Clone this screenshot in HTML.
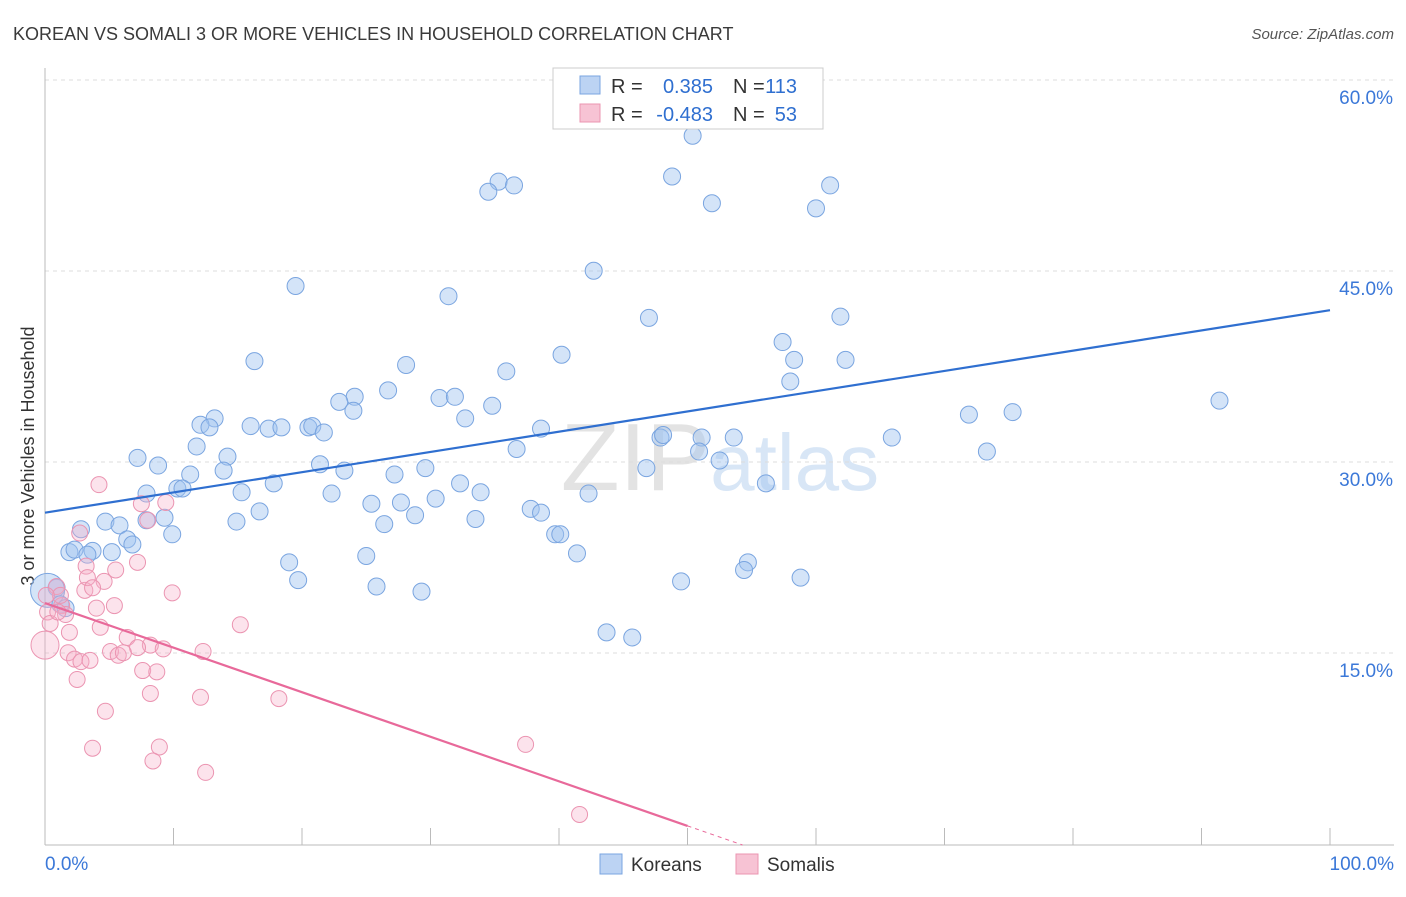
<!DOCTYPE html>
<html><head><meta charset="utf-8">
<style>
body{margin:0;background:#fff;font-family:"Liberation Sans",sans-serif;}
svg text{font-family:"Liberation Sans",sans-serif;}
</style></head>
<body>
<svg id="chart" width="1406" height="892" viewBox="0 0 1406 892" xmlns="http://www.w3.org/2000/svg">
<text x="13" y="40" font-size="18" fill="#3a3a3a">KOREAN VS SOMALI 3 OR MORE VEHICLES IN HOUSEHOLD CORRELATION CHART</text>
<text x="1394" y="39" font-size="15" fill="#555" font-style="italic" text-anchor="end">Source: ZipAtlas.com</text>
<text x="720" y="490" font-size="96" fill="#e6ebf2" text-anchor="middle" font-family="Liberation Serif"><tspan fill="#e3e3e3">ZIP</tspan><tspan fill="#d8e6f6" font-family="Liberation Sans" font-size="80">atlas</tspan></text>
<text transform="translate(34,456) rotate(-90)" font-size="18" fill="#333" text-anchor="middle">3 or more Vehicles in Household</text>
<g id="grid"></g>
<g id="axes"></g>
<g id="points"></g>
<g id="lines"></g>
<g>
<rect x="553" y="68" width="270" height="61" fill="#fff" stroke="#ccc"/>
<rect x="580" y="76" width="20" height="18" fill="#bcd3f3" stroke="#7aa5e0"/>
<rect x="580" y="104" width="20" height="18" fill="#f7c3d4" stroke="#eb94b1"/>
<g font-size="20">
<text x="611" y="93" fill="#333">R =</text>
<text x="713" y="93" fill="#2f6fd0" text-anchor="end">0.385</text>
<text x="733" y="93" fill="#333">N =</text>
<text x="797" y="93" fill="#2f6fd0" text-anchor="end">113</text>
</g>
<g font-size="20">
<text x="611" y="121" fill="#333">R =</text>
<text x="713" y="121" fill="#2f6fd0" text-anchor="end">-0.483</text>
<text x="733" y="121" fill="#333">N =</text>
<text x="797" y="121" fill="#2f6fd0" text-anchor="end">53</text>
</g>
</g>
<g>
<rect x="600" y="854" width="22" height="20" fill="#bcd3f3" stroke="#7aa5e0"/>
<text x="631" y="871" font-size="19" fill="#333">Koreans</text>
<rect x="736" y="854" width="22" height="20" fill="#f7c3d4" stroke="#eb94b1"/>
<text x="767" y="871" font-size="19" fill="#333">Somalis</text>
</g>
</svg>
<script>
const yTicks=[15,30,45,60];
const xTickLabels=["0.0%","100.0%"];
const koreanX=[50.4,35.3,34.5,36.5,48.8,51.9,61.1,60.0,42.7,19.5,31.4,47.0,61.9,57.4,40.2,58.3,62.3,16.3,28.1,35.9,58.0,26.7,24.1,22.9,30.7,31.9,24.0,34.8,32.7,13.2,12.1,12.8,16.0,17.4,18.4,20.5,20.8,21.7,38.6,47.9,48.1,51.1,53.6,65.9,71.9,75.3,91.4,73.3,11.8,7.2,14.2,8.8,21.4,23.3,29.6,36.7,52.5,46.8,50.9,11.3,13.9,27.2,32.3,33.9,10.3,10.7,7.9,15.3,17.8,22.3,25.4,27.7,30.4,42.3,56.1,16.7,28.8,33.5,37.8,38.6,7.9,9.3,14.9,26.4,4.7,5.8,2.8,9.9,39.7,40.1,6.4,6.8,1.9,2.3,3.7,3.3,5.2,41.4,25.0,19.0,54.7,54.4,19.7,25.8,29.3,49.5,58.8,0.9,0.2,43.7,45.7,1.2,1.6];
const koreanY=[55.7,52.1,51.3,51.8,52.5,50.4,51.8,50.0,45.1,43.9,43.1,41.4,41.5,39.5,38.5,38.1,38.1,38.0,37.7,37.2,36.4,35.7,35.2,34.8,35.1,35.2,34.1,34.5,33.5,33.5,33.0,32.8,32.9,32.7,32.8,32.8,32.9,32.4,32.7,32.0,32.2,32.0,32.0,32.0,33.8,34.0,34.9,30.9,31.3,30.4,30.5,29.8,29.9,29.4,29.6,31.1,30.2,29.6,30.9,29.1,29.4,29.1,28.4,27.7,28.0,28.0,27.6,27.7,28.4,27.6,26.8,26.9,27.2,27.6,28.4,26.2,25.9,25.6,26.4,26.1,25.5,25.7,25.4,25.2,25.4,25.1,24.8,24.4,24.4,24.4,24.0,23.6,23.0,23.2,23.1,22.8,23.0,22.9,22.7,22.2,22.2,21.6,20.8,20.3,19.9,20.7,21.0,20.2,20.0,16.7,16.3,18.9,18.6];
const somaliX=[4.2,9.4,7.5,8.0,2.7,7.2,3.2,5.5,4.6,3.1,0.9,9.9,5.4,1.3,4.0,1.6,0.2,0.4,4.3,15.2,1.9,6.4,0,8.2,7.2,9.2,5.1,12.3,5.7,1.8,2.3,2.8,3.5,6.1,7.6,8.7,2.5,8.2,12.1,18.2,4.7,3.7,8.9,8.4,12.5,37.4,41.6,1.2,3.3,0.1,1.0,3.7];
const somaliY=[28.3,26.9,26.8,25.5,24.5,22.2,21.9,21.6,20.7,20.0,20.3,19.8,18.8,18.8,18.6,18.1,18.3,17.4,17.1,17.3,16.7,16.3,15.7,15.7,15.5,15.4,15.2,15.2,14.9,15.1,14.6,14.4,14.5,15.1,13.7,13.6,13.0,11.9,11.6,11.5,10.5,7.6,7.7,6.6,5.7,7.9,2.4,19.6,21.0,19.6,18.3,20.2];
const koreanTrend=[26.1,42.0]; // y at x=0, x=100
const somaliTrend=[19.0,-0.35]; // intercept, slope
const NS="http://www.w3.org/2000/svg";
const X0=45,X1=1330,Y0=845,PXY=191/15;
const sx=v=>X0+(X1-X0)*v/100, sy=v=>Y0-v*PXY;
function mk(t,a,p){const e=document.createElementNS(NS,t);for(const k in a)e.setAttribute(k,a[k]);p.appendChild(e);return e;}
const grid=document.getElementById('grid'),axes=document.getElementById('axes'),pts=document.getElementById('points'),lines=document.getElementById('lines');
yTicks.forEach(v=>{
 const l=mk('line',{x1:45,x2:1394,y1:sy(v)-1,y2:sy(v)-1,stroke:'#dcdcdc','stroke-dasharray':'4,4'},grid);
 
 
 const t=mk('text',{x:1393,y:sy(v)+23,'font-size':19,fill:'#3b78d8','text-anchor':'end'},grid);
 t.textContent=v.toFixed(1)+'%';
 
 
});
const ax=mk('line',{x1:45,x2:1394,y1:Y0,y2:Y0,stroke:'#bbb'},axes);


const ay=mk('line',{x1:45,x2:45,y1:68,y2:Y0,stroke:'#bbb'},axes);


for(let i=0;i<=10;i++){
 const tk=mk('line',{x1:sx(i*10),x2:sx(i*10),y1:828,y2:Y0,stroke:'#bbb'},axes);
 
 
}
[[0,'start',45],[100,'end',1394]].forEach((d,i)=>{
 const t=mk('text',{x:d[2],y:870,'font-size':19,fill:'#3b78d8','text-anchor':d[1]},axes);
 t.textContent=xTickLabels[i];
 
 
});
koreanX.forEach((x,i)=>{
 const big=(x<0.5&&koreanY[i]>19.5&&koreanY[i]<20.5);
 const c=mk('circle',{cx:sx(x),cy:sy(koreanY[i]),r:big?17:8.5,fill:'rgba(160,195,240,0.45)',stroke:'#7aa5e0','stroke-width':1},pts);
 
 
});
somaliX.forEach((x,i)=>{
 const big=(x===0);
 const c=mk('circle',{cx:sx(x),cy:sy(somaliY[i]),r:big?14:8,fill:'rgba(245,175,200,0.35)',stroke:'#eb94b1','stroke-width':1},pts);
 
 
});
const kl=mk('line',{x1:sx(0),y1:sy(koreanTrend[0]),x2:sx(100),y2:sy(koreanTrend[1]),stroke:'#2f6fd0','stroke-width':2.2},lines);


const sf=x=>somaliTrend[0]+somaliTrend[1]*x;
const xz=-somaliTrend[0]/somaliTrend[1];
const sl=mk('line',{x1:sx(0),y1:sy(sf(0)),x2:sx(50),y2:sy(sf(50)),stroke:'#e8699a','stroke-width':2.2},lines);


const sd=mk('line',{x1:sx(50),y1:sy(sf(50)),x2:sx(xz),y2:sy(0),stroke:'#e8699a','stroke-width':1,'stroke-dasharray':'4,4'},lines);


</script>
</body></html>
